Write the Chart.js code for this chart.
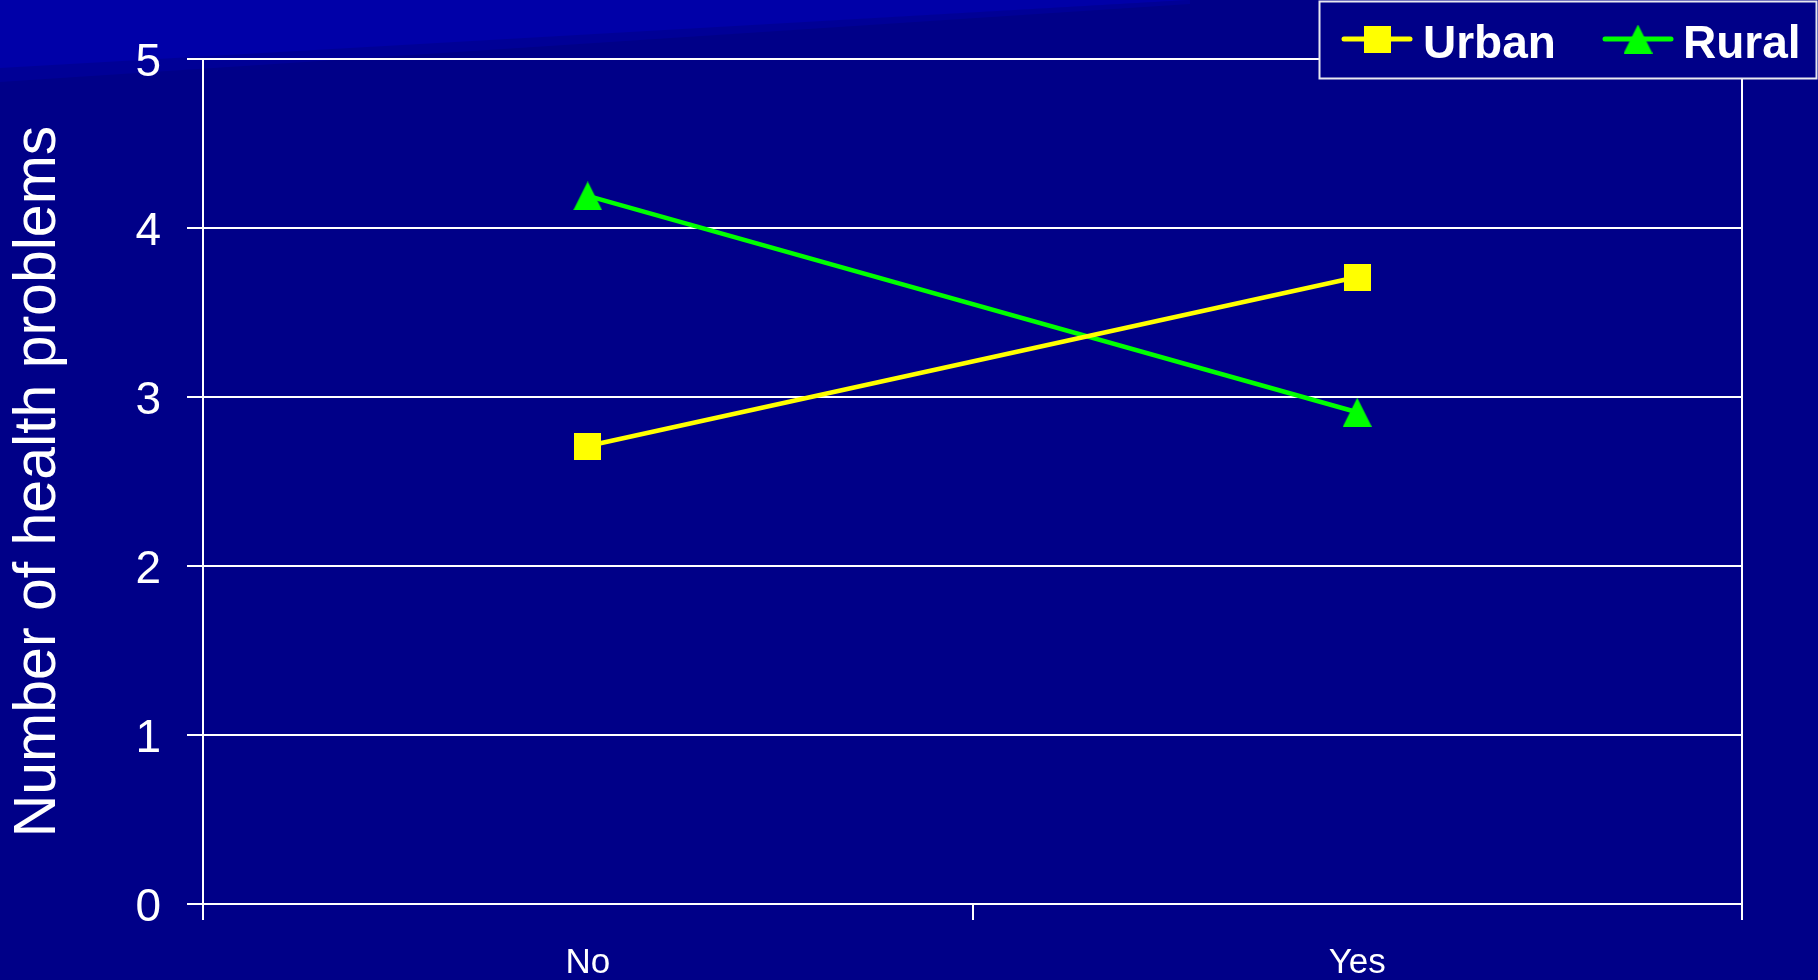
<!DOCTYPE html>
<html>
<head>
<meta charset="utf-8">
<script src="https://cdn.jsdelivr.net/npm/chart.js@4.4.1/dist/chart.umd.min.js"></script>
<style>
  html, body { margin: 0; padding: 0; background: #000088; overflow: hidden; }
  #wrap { position: relative; width: 1818px; height: 980px; }
  canvas { display: block; }
</style>
</head>
<body>
<div id="wrap"><canvas id="c" width="1818" height="980"></canvas></div>
<script>
const categories = ['No', 'Yes'];
const urbanValues = [2.71, 3.71];
const ruralValues = [4.19, 2.91];
const seriesNames = ['Urban', 'Rural'];
const yAxisTitle = 'Number of health problems';
const yMin = 0, yMax = 5, yStep = 1;

const NAVY = '#000088';
const WHITE = '#ffffff';
const YELLOW = '#ffff00';
const GREEN = '#00ff00';
const FONT = "'Liberation Sans', Arial, sans-serif";

function makeTriangle(color, w, h) {
  const c = document.createElement('canvas');
  c.width = w; c.height = h;
  const g = c.getContext('2d');
  g.fillStyle = color;
  g.beginPath();
  g.moveTo(0, h); g.lineTo(w / 2, 0); g.lineTo(w, h); g.closePath();
  g.fill();
  return c;
}
function makeSquare(color, s) {
  const c = document.createElement('canvas');
  c.width = s; c.height = s;
  const g = c.getContext('2d');
  g.fillStyle = color;
  g.fillRect(0, 0, s, s);
  return c;
}
const triImg = makeTriangle(GREEN, 29, 29);
const sqImg = makeSquare(YELLOW, 27);

const bgPlugin = {
  id: 'bg',
  beforeDraw(chart) {
    const ctx = chart.ctx;
    ctx.save();
    ctx.fillStyle = NAVY;
    ctx.fillRect(0, 0, chart.width, chart.height);
    ctx.fillStyle = '#000096';
    ctx.beginPath();
    ctx.moveTo(0, 66); ctx.lineTo(1190, 0); ctx.lineTo(1190, 4); ctx.lineTo(0, 82); ctx.closePath();
    ctx.fill();
    ctx.fillStyle = '#0000a8';
    ctx.beginPath();
    ctx.moveTo(0, 0); ctx.lineTo(1190, 0); ctx.lineTo(0, 68); ctx.closePath();
    ctx.fill();
    ctx.restore();
  }
};

const legendPlugin = {
  id: 'boxLegend',
  afterDraw(chart) {
    const ctx = chart.ctx;
    ctx.save();
    const bx = 1319.5, by = 1.5, bw = 497, bh = 77;
    ctx.fillStyle = NAVY;
    ctx.fillRect(bx, by, bw, bh);
    ctx.strokeStyle = '#e8e8f0';
    ctx.lineWidth = 2;
    ctx.strokeRect(bx, by, bw, bh);
    const items = [
      { lx: 1342, tx: 1423, img: sqImg },
      { lx: 1603, tx: 1683, img: triImg }
    ];
    const ly = 39;
    chart.data.datasets.forEach((ds, i) => {
      const it = items[i];
      ctx.strokeStyle = ds.borderColor;
      ctx.lineWidth = 5;
      ctx.lineCap = 'round';
      ctx.beginPath();
      ctx.moveTo(it.lx + 2, ly); ctx.lineTo(it.lx + 68, ly);
      ctx.stroke();
      ctx.drawImage(it.img, it.lx + 35 - it.img.width / 2, ly - it.img.height / 2);
      ctx.fillStyle = WHITE;
      ctx.font = 'bold 46px ' + FONT;
      ctx.textBaseline = 'alphabetic';
      ctx.textAlign = 'left';
      ctx.fillText(ds.label, it.tx, 58);
    });
    ctx.restore();
  }
};

new Chart(document.getElementById('c'), {
  type: 'line',
  data: {
    labels: categories,
    datasets: [
      {
        label: seriesNames[0],
        data: urbanValues,
        borderColor: YELLOW,
        backgroundColor: YELLOW,
        borderWidth: 4.5,
        pointStyle: sqImg,
        pointRadius: 14,
        pointHoverRadius: 14,
        tension: 0,
        fill: false
      },
      {
        label: seriesNames[1],
        data: ruralValues,
        borderColor: GREEN,
        backgroundColor: GREEN,
        borderWidth: 4.5,
        pointStyle: triImg,
        pointRadius: 15,
        pointHoverRadius: 15,
        tension: 0,
        fill: false
      }
    ]
  },
  options: {
    responsive: false,
    animation: false,
    devicePixelRatio: 1,
    layout: { padding: { top: 59, right: 76, left: 0, bottom: 0 } },
    plugins: {
      legend: { display: false },
      tooltip: { enabled: false }
    },
    scales: {
      x: {
        type: 'category',
        offset: true,
        grid: {
          offset: true,
          color: (ctx) => (ctx.index === 1 ? 'rgba(0,0,0,0)' : WHITE),
          tickColor: WHITE,
          lineWidth: 2,
          tickLength: 16,
          drawOnChartArea: true
        },
        border: { display: true, color: WHITE, width: 2 },
        ticks: { color: WHITE, font: { family: FONT, size: 35 }, padding: 22 },
        afterFit: (s) => { s.height = 76; }
      },
      y: {
        min: yMin,
        max: yMax,
        ticks: { stepSize: yStep, color: WHITE, font: { family: FONT, size: 46 }, padding: 26, labelOffset: 4 },
        grid: { color: WHITE, lineWidth: 2, tickLength: 16 },
        border: { display: true, color: WHITE, width: 2 },
        title: {
          display: true,
          text: yAxisTitle,
          color: WHITE,
          font: { family: FONT, size: 59, lineHeight: 1.14 },
          padding: { top: 5, bottom: 0 }
        },
        afterFit: (s) => { s.width = 203; }
      }
    }
  },
  plugins: [bgPlugin, legendPlugin]
});
</script>
</body>
</html>
